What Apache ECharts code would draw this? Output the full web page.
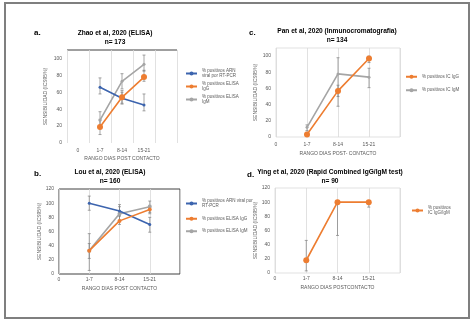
<!DOCTYPE html>
<html>
<head>
<meta charset="utf-8">
<script src="https://cdn.jsdelivr.net/npm/echarts@6/dist/echarts.min.js"></script>
<style>
  html, body { margin: 0; padding: 0; background: #fff; }
  #chart { width: 475px; height: 321px; }
</style>
</head>
<body>
<div id="chart"></div>
<script>
// categorias del eje x (la ultima va vacia, como en el original)
const categories = ['0', '1-7', '8-14', '15-21', '']

// a. Zhao et al
const zhaoArn = [null, 66, 53, 45, null]
const zhaoIgG = [null, 19, 54, 78, null]
const zhaoIgM = [null, 27, 73, 93, null]
const zhaoErr = [[1, 58, 77], [1, 10, 28], [1, 20, 37], [2, 47, 60], [2, 46, 62], [2, 64, 82], [3, 38, 58], [3, 73, 86], [3, 85, 104]]

// b. Lou et al
const louArn = [null, 100, 89, 70, null]
const louIgG = [null, 33, 75, 91, null]
const louIgM = [null, 33, 85, 95, null]
const louErr = [[1, 90, 110], [1, 22, 43], [1, 5, 57], [2, 82, 98], [2, 70, 82], [2, 76, 95], [3, 59, 80], [3, 85, 97], [3, 87, 103]]

// c. Pan et al
const panIgG = [null, 3, 57, 97, null]
const panIgM = [null, 12, 78, 74, null]
const panErr = [[1, 1, 6], [1, 8, 15], [2, 50, 64], [2, 38, 98], [3, 92, 100], [3, 61, 85]]

// d. Ying et al
const yingIgGM = [null, 18, 100, 100, null]
const yingErr = [[1, 3, 46], [2, 53, 100], [3, 93, 100]]

const blue = '#3c64ae'
const orange = '#ed7d31'
const gray = '#a5a5a5'
const txt = '#595959'
const font = "'Liberation Sans', sans-serif"

function renderError(params, api) {
  let x = api.value(0)
  let lo = api.coord([x, api.value(1)])
  let hi = api.coord([x, api.value(2)])
  let w = 1.5
  let style = { stroke: '#7f7f7f', lineWidth: 0.7 }
  return {
    type: 'group',
    children: [
      { type: 'line', shape: { x1: lo[0], y1: lo[1], x2: hi[0], y2: hi[1] }, style: style },
      { type: 'line', shape: { x1: lo[0] - w, y1: lo[1], x2: lo[0] + w, y2: lo[1] }, style: style },
      { type: 'line', shape: { x1: hi[0] - w, y1: hi[1], x2: hi[0] + w, y2: hi[1] }, style: style }
    ]
  }
}

function xAxis(idx, gap, margin, name, nameGap) {
  return {
    type: 'category',
    gridIndex: idx,
    data: categories,
    boundaryGap: gap,
    axisLine: { show: false },
    axisTick: { show: false },
    axisLabel: { fontSize: 5, color: txt, margin: margin, fontFamily: font, interval: 0 },
    splitLine: { show: true, lineStyle: { color: '#d9d9d9', width: 0.8 } },
    name: name,
    nameLocation: 'middle',
    nameGap: nameGap,
    nameTextStyle: { fontSize: 5, color: txt, fontFamily: font }
  }
}

function yAxis(idx, max, nameGap) {
  return {
    type: 'value',
    gridIndex: idx,
    min: 0,
    max: max,
    interval: 20,
    axisLine: { show: false },
    axisTick: { show: false },
    splitLine: { show: false },
    axisLabel: { fontSize: 5, color: txt, margin: 5, fontFamily: font, showMaxLabel: max == 120 },
    name: 'SENSIBILIDAD (ICS95%)',
    nameLocation: 'middle',
    nameGap: nameGap,
    nameTextStyle: { fontSize: 5, color: txt, fontFamily: font }
  }
}

function line(name, idx, data, color, size, z) {
  return {
    name: name,
    type: 'line',
    xAxisIndex: idx,
    yAxisIndex: idx,
    data: data,
    color: color,
    symbol: 'circle',
    symbolSize: size,
    lineStyle: { width: 1.6, color: color },
    itemStyle: { color: color },
    z: z,
    animation: false
  }
}

function errors(idx, data) {
  return {
    type: 'custom',
    xAxisIndex: idx,
    yAxisIndex: idx,
    data: data,
    renderItem: renderError,
    z: 1,
    silent: true,
    animation: false
  }
}

function legend(left, top, names, labels, gap) {
  return {
    left: left,
    top: top,
    orient: 'vertical',
    padding: 0,
    itemWidth: 11,
    itemHeight: 5,
    itemGap: gap,
    data: names,
    formatter: function (n) { return labels[names.indexOf(n)] },
    textStyle: { fontSize: 4.5, color: txt, lineHeight: 5.5, fontFamily: font }
  }
}

function title(text, x, y) {
  return {
    text: text,
    left: x,
    top: y,
    padding: 0,
    textAlign: 'center',
    textStyle: { fontSize: 6.6, fontWeight: 'bold', color: '#000', lineHeight: 9.5, fontFamily: font }
  }
}

const nArn = '% positivos ARN viral por RT-PCR'
const nIgG = '% positivos ELISA IgG'
const nIgM = '% positivos ELISA IgM'
const nIcG = '% positivos IC IgG'
const nIcM = '% positivos IC IgM'
const nIcGM = '% positivos IC IgG/IgM'

const chart = echarts.init(document.getElementById('chart'))
const options = {
  backgroundColor: '#fff',
  title: [
    title('Zhao et al, 2020 (ELISA)\nn= 173', 115, 28),
    title('Pan et al, 2020 (Inmunocromatografia)\nn= 134', 337, 26),
    title('Lou et al, 2020 (ELISA)\nn= 160', 110, 167),
    title('Ying et al, 2020 (Rapid Combined IgG/IgM test)\nn= 90', 330, 167)
  ],
  grid: [
    { left: 67, top: 50, width: 110, height: 93, show: false },
    { left: 276, top: 48, width: 124, height: 89, show: true, borderColor: '#d9d9d9', borderWidth: 0.8 },
    { left: 59, top: 189, width: 121, height: 85, show: true, borderColor: '#404040', borderWidth: 1 },
    { left: 275, top: 188, width: 125, height: 85, show: true, borderColor: '#d9d9d9', borderWidth: 0.8 }
  ],
  xAxis: [
    xAxis(0, true, 5, 'RANGO DIAS POST CONTACTO', 13),
    xAxis(1, false, 5, 'RANGO DIAS POST- CONTACTO', 14),
    xAxis(2, false, 3, 'RANGO DIAS POST CONTACTO', 12),
    xAxis(3, false, 3, 'RANGO DIAS POSTCONTACTO', 12)
  ],
  yAxis: [
    yAxis(0, 110, 19),
    yAxis(1, 110, 18),
    yAxis(2, 120, 16),
    yAxis(3, 120, 15)
  ],
  legend: [
    legend(185, 68, [nArn, nIgG, nIgM], ['% positivos ARN\nviral por RT-PCR', '% positivos ELISA\nIgG', '% positivos ELISA\nIgM'], 2),
    legend(405, 74, [nIcG, nIcM], ['% positivos IC IgG', '% positivos IC IgM'], 8),
    legend(185, 198, [nArn, nIgG, nIgM], ['% positivos ARN viral por\nRT-PCR', '% positivos ELISA IgG', '% positivos ELISA IgM'], 7),
    legend(411, 205, [nIcGM], ['% positivos\nIC IgG/IgM'], 4)
  ],
  graphic: [
    { type: 'rect', shape: { x: 5, y: 3, width: 464, height: 315 }, style: { fill: 'none', stroke: '#7f7f7f', lineWidth: 2 } },
    { type: 'line', shape: { x1: 67, y1: 50, x2: 177, y2: 50 }, style: { stroke: '#404040', lineWidth: 1 } },
    { type: 'text', left: 34, top: 29, style: { text: 'a.', font: 'bold 8px ' + font, fill: '#000' } },
    { type: 'text', left: 249, top: 29, style: { text: 'c.', font: 'bold 8px ' + font, fill: '#000' } },
    { type: 'text', left: 34, top: 170, style: { text: 'b.', font: 'bold 8px ' + font, fill: '#000' } },
    { type: 'text', left: 247, top: 171, style: { text: 'd.', font: 'bold 8px ' + font, fill: '#000' } }
  ],
  series: [
    errors(0, zhaoErr),
    line(nIgM, 0, zhaoIgM, gray, 3, 2),
    line(nArn, 0, zhaoArn, blue, 3, 3),
    line(nIgG, 0, zhaoIgG, orange, 6, 4),
    errors(1, panErr),
    line(nIcM, 1, panIgM, gray, 3, 2),
    line(nIcG, 1, panIgG, orange, 6, 3),
    errors(2, louErr),
    line(nIgM, 2, louIgM, gray, 4, 2),
    line(nArn, 2, louArn, blue, 3, 3),
    line(nIgG, 2, louIgG, orange, 4, 4),
    errors(3, yingErr),
    line(nIcGM, 3, yingIgGM, orange, 6, 3)
  ]
}
chart.setOption(options)
</script>
</body>
</html>
